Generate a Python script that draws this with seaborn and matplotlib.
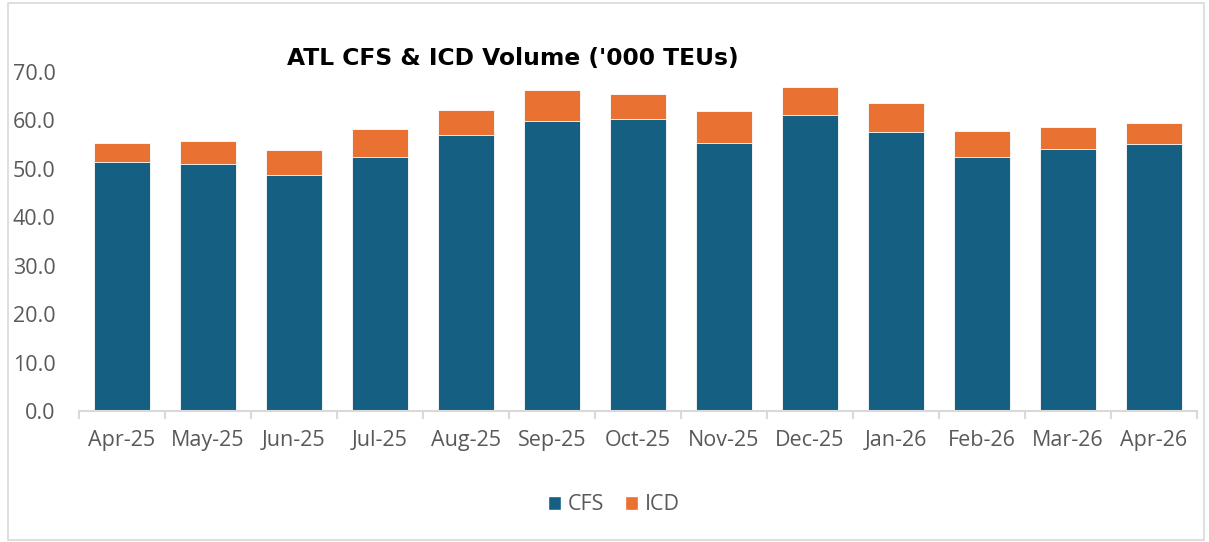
import pandas as pd
import seaborn as sns
import matplotlib.pyplot as plt
from matplotlib.patches import Patch, Rectangle
from matplotlib.ticker import FixedLocator

# Monthly volumes ('000 TEUs)
months = ['Apr-25', 'May-25', 'Jun-25', 'Jul-25', 'Aug-25', 'Sep-25', 'Oct-25',
          'Nov-25', 'Dec-25', 'Jan-26', 'Feb-26', 'Mar-26', 'Apr-26']
cfs = [51.4, 51.1, 48.7, 52.4, 57.0, 59.9, 60.2, 55.4, 61.2, 57.6, 52.5, 54.1, 55.1]
icd = [3.9, 4.6, 5.2, 5.9, 5.2, 6.3, 5.3, 6.6, 5.6, 6.0, 5.3, 4.5, 4.3]

cfs_color = '#156082'
icd_color = '#E97132'
text_gray = '#595959'
line_gray = '#D9D9D9'

df = pd.DataFrame({'Month': months, 'CFS': cfs, 'ICD': icd})
df['Total'] = df['CFS'] + df['ICD']

sns.set_theme(style='white')
plt.rcParams['font.family'] = ['Open Sans', 'DejaVu Sans']

fig = plt.figure(figsize=(12.09, 5.42), dpi=100)
ax = fig.add_axes([79 / 1209, 1 - 411 / 542, 1118 / 1209, (411 - 72) / 542])

# stacked bars: total in orange, CFS drawn on top
sns.barplot(data=df, x='Month', y='Total', color=icd_color, width=0.66,
            saturation=1, edgecolor='white', linewidth=0.6, ax=ax)
sns.barplot(data=df, x='Month', y='CFS', color=cfs_color, width=0.66,
            saturation=1, edgecolor='white', linewidth=0.6, ax=ax)

ax.set_ylim(0, 70)
ax.set_xlim(-0.5, len(months) - 0.5)
ax.set_yticks(range(0, 71, 10))
ax.set_yticklabels([f'{v:.1f}' for v in range(0, 71, 10)])
ax.set_xlabel('')
ax.set_ylabel('')

for side in ['top', 'right', 'left']:
    ax.spines[side].set_visible(False)
ax.spines['bottom'].set_color(line_gray)
ax.spines['bottom'].set_linewidth(1.5)

ax.tick_params(axis='y', length=0, labelsize=15.5, labelcolor=text_gray, pad=17)
ax.tick_params(axis='x', which='major', length=0, labelsize=15.5,
               labelcolor=text_gray, pad=14)
ax.xaxis.set_minor_locator(FixedLocator([i - 0.5 for i in range(len(months) + 1)]))
ax.tick_params(axis='x', which='minor', length=6, width=1.5, color=line_gray,
               direction='out', bottom=True)

fig.text(513 / 1209, 1 - 58 / 542, "ATL CFS & ICD Volume ('000 TEUs)",
         ha='center', va='center', fontsize=16.8, fontweight='bold', color='black',
         family='DejaVu Sans')

handles = [Patch(facecolor=cfs_color, label='CFS'),
           Patch(facecolor=icd_color, label='ICD')]
fig.legend(handles=handles, loc='center', bbox_to_anchor=(614 / 1209, 1 - 505 / 542),
           ncol=2, frameon=False, fontsize=15.5, labelcolor=text_gray,
           handlelength=0.6, handleheight=0.6, handletextpad=0.3, columnspacing=1.0)

# chart area border
fig.patches.append(Rectangle((8 / 1209, 0.003), 1196 / 1209, 0.992,
                             transform=fig.transFigure, fill=False,
                             edgecolor=line_gray, linewidth=1.2))

fig.savefig('out.png', dpi=100)
